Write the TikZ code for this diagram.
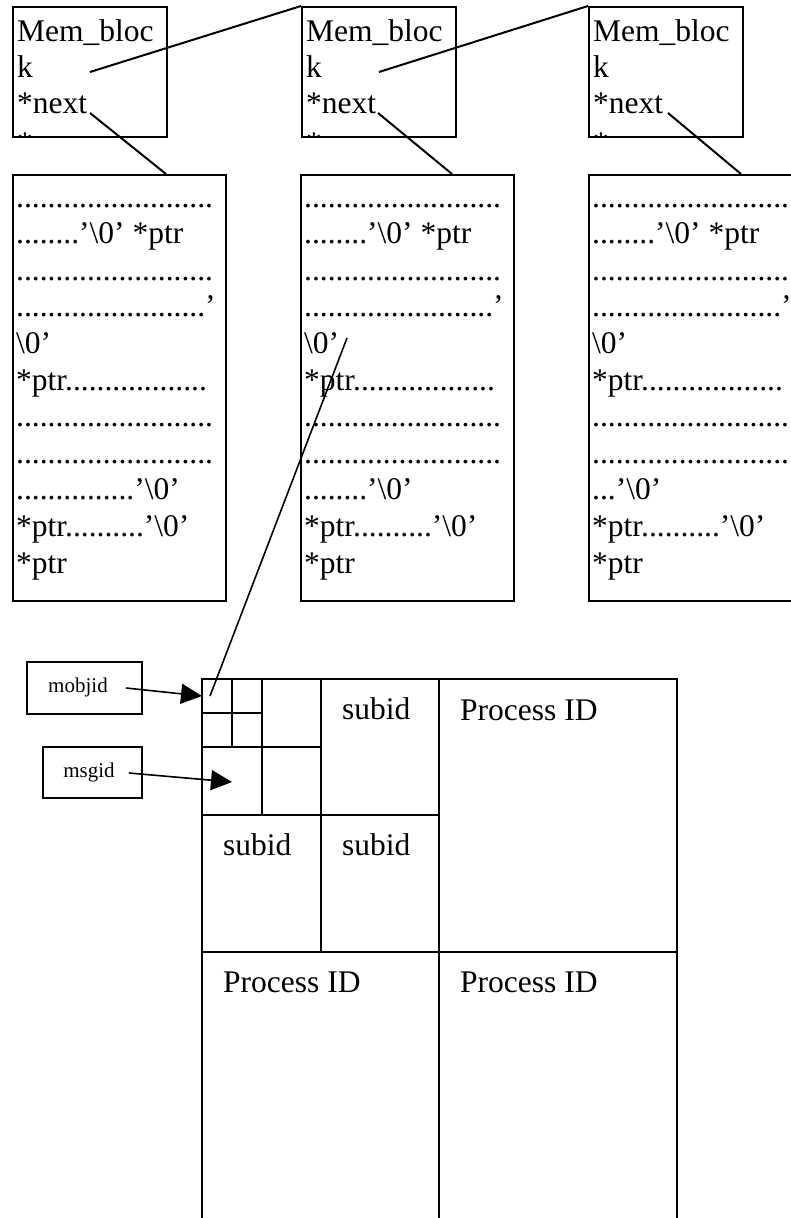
\documentclass[tikz,border=0pt]{standalone}
\usepackage{fontspec}
\setmainfont{Liberation Serif}
\usetikzlibrary{arrows.meta,calc}
\ExplSyntaxOn
\cs_new:Npn \rdots #1 { \prg_replicate:nn {#1} {.} }
\ExplSyntaxOff
\newcommand{\bigfont}{\fontsize{31.5}{36.5}\selectfont}
\newcommand{\smallfont}{\fontsize{21}{25}\selectfont}
\newcommand{\bs}{\textbackslash}
\tikzset{
  box/.style={draw, line width=2pt, inner sep=0pt, rectangle},
  txt/.style={inner sep=0pt, anchor=base west, font=\bigfont},
  lbl/.style={inner sep=0pt, font=\smallfont},
  gridline/.style={line width=1.6pt},
  conn/.style={line width=2pt},
  arr/.style={line width=1.6pt, -{Triangle[length=21pt,width=20pt]}},
}
% #1 name, #2 left x, #3 dots in row 9
\newcommand{\bigbox}[3]{%
  \node[box, minimum width=213pt, minimum height=426pt, name=#1] at (#2+106.5,388) {};
  \foreach \t [count=\i] in {%
      {\rdots{25}},
      {\rdots{8}’\bs0’ *ptr},
      {\rdots{25}},
      {\rdots{24}’},
      {\bs0’},
      {*ptr\rdots{18}},
      {\rdots{25}},
      {\rdots{25}},
      {\rdots{#3}’\bs0’},
      {*ptr\rdots{10}’\bs0’},
      {*ptr}}
    \node[txt, name=#1r\i] at (#2+3,207+36.6*\i-36.6) {\t};
}
% #1 name, #2 left x
\newcommand{\membox}[2]{%
  \node[box, minimum width=154pt, minimum height=130pt, name=#1] at (#2+77,72) {};
  \begin{scope}
    \clip (#2,7) rectangle (#2+154,136);
    \node[txt, name=#1r1] at (#2+4,41) {Mem\_bloc};
    \node[txt, name=#1r2] at (#2+4,77) {k};
    \node[txt, name=#1r3] at (#2+4,113) {*next};
    \node[txt, name=#1r4] at (#2+4,153) {*};
  \end{scope}
}
\begin{document}
\begin{tikzpicture}[x=1pt,y=-1pt]
\useasboundingbox (0,0) rectangle (791,1218);
\clip (0,0) rectangle (791,1218);

% memory block headers
\membox{m1}{13}
\membox{m2}{302}
\membox{m3}{589}

% data blocks
\bigbox{b1}{13}{15}
\bigbox{b2}{301}{8}
\bigbox{b3}{589}{3}

% connectors between headers
\coordinate (m1k) at (90,72);
\coordinate (m2k) at (379,72);
\draw[conn] (m1k) -- (m2.north west);
\draw[conn] (m2k) -- (m3.north west);

% *next -> data block
\coordinate (m1n) at (90,113);
\coordinate (m2n) at (378,113);
\coordinate (m3n) at (668,113);
\draw[conn] (m1n) -- ($(b1.north west)+(154,0)$);
\draw[conn] (m2n) -- ($(b2.north west)+(152,0)$);
\draw[conn] (m3n) -- ($(b3.north west)+(153,0)$);

% grid
\draw[gridline] (202,1240) -- (202,679) -- (677,679) -- (677,1240);
\draw[gridline] (439,679) -- (439,1240);
\draw[gridline] (202,952) -- (677,952);
\draw[gridline] (321,679) -- (321,952);
\draw[gridline] (202,815) -- (439,815);
\draw[gridline] (262,679) -- (262,815);
\draw[gridline] (202,747) -- (321,747);
\draw[gridline] (232,679) -- (232,747);
\draw[gridline] (202,713) -- (262,713);

\node[txt, name=s1] at (342,719) {subid};
\node[txt, name=s2] at (223,855) {subid};
\node[txt, name=s3] at (342,855) {subid};
\node[txt, name=p1] at (460,720) {Process ID};
\node[txt, name=p2] at (223,992) {Process ID};
\node[txt, name=p3] at (460,992) {Process ID};

% pointer from data block into grid
\coordinate (ptrA) at (347,338);
\coordinate (ptrB) at (210,696);
\draw[line width=1.6pt] (ptrA) -- (ptrB);

% labels with arrows
\node[draw, line width=1.6pt, minimum width=115pt, minimum height=52pt, inner sep=0pt, name=mobj] at (84.5,688) {};
\node[lbl, name=mobjt] at (78,687) {mobjid};
\node[draw, line width=1.6pt, minimum width=99pt, minimum height=51pt, inner sep=0pt, name=msg] at (92.5,772.5) {};
\node[lbl, name=msgt] at (89,772) {msgid};
\coordinate (mobjtip) at (202,696);
\coordinate (msgtip) at (232,782);
\draw[arr] ($(mobjt.east)+(18,1)$) -- (mobjtip);
\draw[arr] ($(msgt.east)+(14,1)$) -- (msgtip);
\end{tikzpicture}
\end{document}
